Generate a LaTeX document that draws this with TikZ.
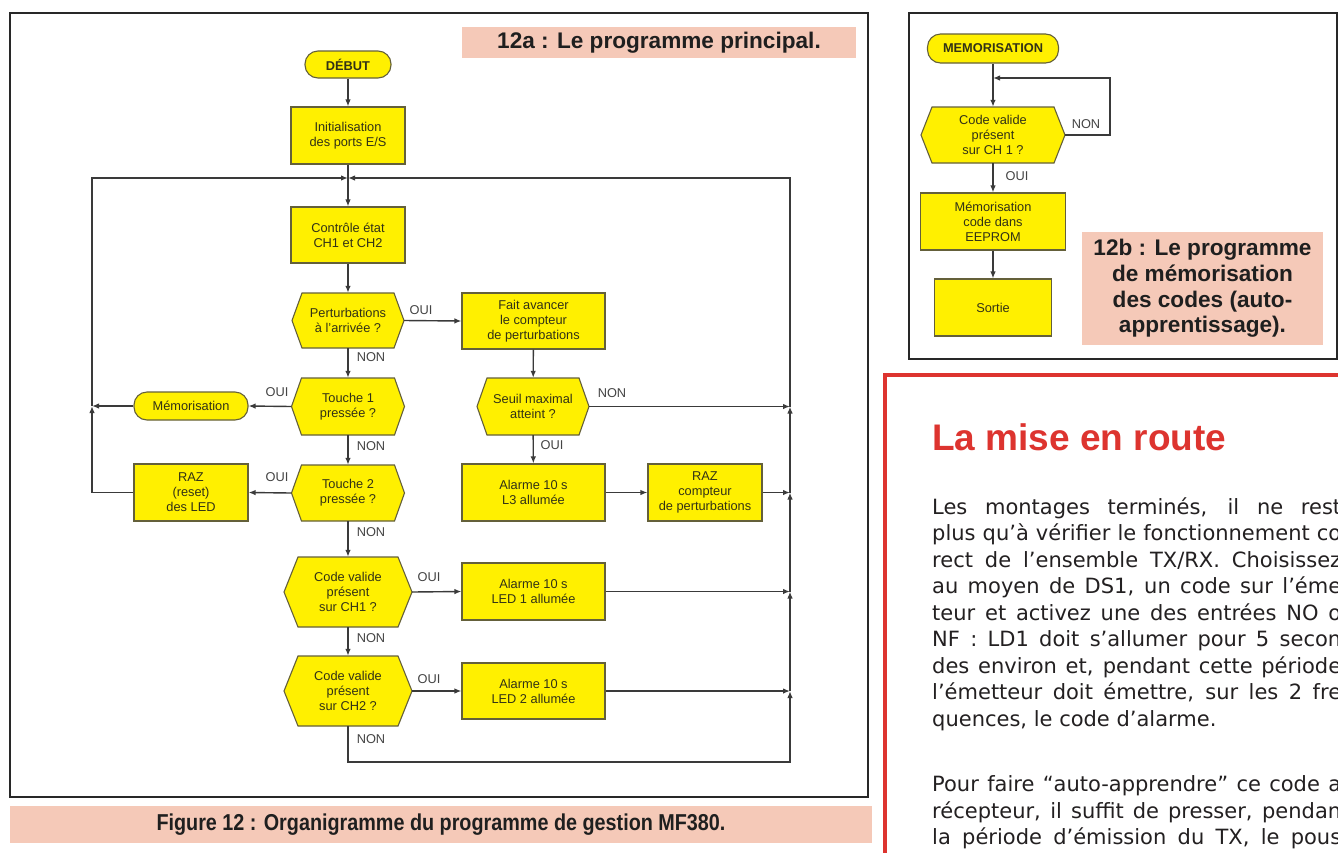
\documentclass[tikz,border=0pt]{standalone}
\usepackage{fontspec}
\usepackage{graphicx}
\setmainfont{Liberation Sans}
\newfontfamily\bodyfam{DejaVu Sans}
\usetikzlibrary{arrows.meta}
\definecolor{fyel}{RGB}{255,240,0}
\definecolor{fborder}{RGB}{100,96,58}
\definecolor{ftext}{RGB}{50,50,22}
\definecolor{fline}{RGB}{58,58,58}
\definecolor{flab}{RGB}{68,68,68}
\definecolor{fframe}{RGB}{40,40,40}
\definecolor{pinkband}{RGB}{245,201,184}
\definecolor{capred}{RGB}{221,52,47}
\definecolor{bodytext}{RGB}{35,32,33}
\newcommand\flowfont{\fontsize{12.8}{15}\selectfont}
\newcommand\bandfont{\fontsize{22.6}{25.7}\selectfont\bfseries}
\newcommand\bodyfont{\bodyfam\fontsize{21}{26.5}\selectfont}
% name, x, y, width, height, slant, text
\newcommand\flowhex[7]{%
  \path[hexshape] (#2-#4/2,#3) -- (#2-#4/2+#6,#3-#5/2) -- (#2+#4/2-#6,#3-#5/2)
     -- (#2+#4/2,#3) -- (#2+#4/2-#6,#3+#5/2) -- (#2-#4/2+#6,#3+#5/2) -- cycle;
  \node[hexnode, minimum width=#4pt, minimum height=#5pt] (#1) at (#2,#3) {#7};}
\newcommand\bodyline[3]{\node[bodyln] (#1) at (932,#2) {\makebox[409pt][s]{#3}};}
\begin{document}
\begin{tikzpicture}[x=1pt,y=-1pt,
  rbox/.style={rectangle, draw=fborder, fill=fyel, line width=1.1pt, text=ftext,
     font=\flowfont, align=center, inner sep=0pt},
  term/.style={rbox, rounded corners=13pt},
  hexshape/.style={draw=fborder, fill=fyel, line width=1.1pt},
  hexnode/.style={rectangle, text=ftext, font=\flowfont, align=center, inner sep=0pt},
  conn/.style={draw=fline, line width=1.4pt},
  arr/.style={conn, -{Latex[length=7pt,width=5.5pt]}},
  lab/.style={font=\flowfont, text=flab, inner sep=0pt},
  frame/.style={draw=fframe, line width=1.8pt},
  band/.style={fill=pinkband, inner sep=0pt, align=center, text=black!88, font=\bandfont},
  bodyln/.style={anchor=base west, inner sep=0pt, font=\bodyfont, text=bodytext}]
\useasboundingbox (0,0) rectangle (1338,852);
\fill[white] (0,0) rectangle (1338,852);

% ---------- frames ----------
\draw[frame] (10,13) rectangle (868,797);
\draw[frame] (909,13) rectangle (1337,359);
\draw[draw=capred, line width=3.6pt] (1350,375) -- (885,375) -- (885,870);

% ---------- captions ----------
\node[band, minimum width=394pt, minimum height=31pt] (capA) at (659,42.5) {12a : Le programme principal.};
\node[band, minimum width=241pt, minimum height=113pt] (capB) at (1202.5,288.5)
  {12b : Le programme\\de mémorisation\\des codes (auto-\\apprentissage).};
\node[band, minimum width=862pt, minimum height=37pt] (capF) at (441,824.5)
  {\scalebox{0.86}[1]{\fontsize{23}{26}\selectfont\bfseries Figure 12 : Organigramme du programme de gestion MF380.}};

% ---------- main flowchart nodes ----------
\node[term, minimum width=86pt, minimum height=27pt] (debut) at (348,64.5) {\textbf{DÉBUT}};
\node[rbox, minimum width=114pt, minimum height=57pt] (init) at (348,135.5) {Initialisation\\des ports E/S};
\node[rbox, minimum width=114pt, minimum height=56pt] (ctrl) at (348,235) {Contrôle état\\CH1 et CH2};
\flowhex{pert}{348}{320.5}{112}{55}{10}{Perturbations\\à l'arrivée ?}
\node[rbox, minimum width=143pt, minimum height=56pt] (fait) at (533.5,321) {Fait avancer\\le compteur\\de perturbations};
\flowhex{t1}{348}{406.5}{113}{57}{10}{Touche 1\\pressée ?}
\node[term, minimum width=114pt, minimum height=28pt] (memo) at (191,406) {Mémorisation};
\flowhex{seuil}{533}{406.5}{112}{57}{10}{Seuil maximal\\atteint ?}
\flowhex{t2}{348}{493}{113}{56}{10}{Touche 2\\pressée ?}
\node[rbox, minimum width=114pt, minimum height=57pt] (raz) at (191,492.5) {RAZ\\(reset)\\des LED};
\node[rbox, minimum width=143pt, minimum height=57pt] (al3) at (533.5,492.5) {Alarme 10 s\\L3 allumée};
\node[rbox, minimum width=114pt, minimum height=57pt] (razc) at (705,492.5) {RAZ\\compteur\\de perturbations};
\flowhex{ch1}{348}{592}{128}{70}{14}{Code valide\\présent\\sur CH1 ?}
\node[rbox, minimum width=143pt, minimum height=57pt] (led1) at (533.5,591.5) {Alarme 10 s\\LED 1 allumée};
\flowhex{ch2}{348}{691}{128}{70}{14}{Code valide\\présent\\sur CH2 ?}
\node[rbox, minimum width=143pt, minimum height=56pt] (led2) at (533.5,691) {Alarme 10 s\\LED 2 allumée};

% ---------- junctions ----------
\coordinate (jt) at (348,178);
\coordinate (xl) at (92,178);
\coordinate (xr) at (790,178);
\coordinate (jl) at (memo.west -| xl);
\coordinate (jr1) at (seuil.east -| xr);
\coordinate (jr2) at (razc.east -| xr);
\coordinate (jr3) at (led1.east -| xr);
\coordinate (jr4) at (led2.east -| xr);
\coordinate (jb) at (790,762);

% ---------- main connectors ----------
\draw[arr] (debut) -- (init);
\draw[arr] (init) -- (ctrl);
\draw[arr] (ctrl) -- (pert);
\draw[arr] (pert.east) -- (fait.west);
\draw[arr] (pert) -- (t1);
\draw[arr] (t1.west) -- (memo.east);
\draw[arr] (memo.west) -- (jl);
\draw[arr] (t1) -- (t2);
\draw[arr] (t2.west) -- (raz.east);
\draw[arr] (raz.west) -| (jl);
\draw[arr] (jl) |- (jt);
\draw[arr] (t2) -- (ch1);
\draw[arr] (ch1) -- (ch2);
\draw[arr] (ch1.east) -- (led1.west);
\draw[arr] (ch2.east) -- (led2.west);
\draw[arr] (fait) -- (seuil);
\draw[arr] (seuil) -- (al3);
\draw[arr] (al3) -- (razc);
\draw[arr] (seuil.east) -- (jr1);
\draw[arr] (razc.east) -- (jr2);
\draw[arr] (led1.east) -- (jr3);
\draw[arr] (led2.east) -- (jr4);
\draw[arr] (ch2.south) |- (jb) -- (jr4);
\draw[arr] (jr4) -- (jr3);
\draw[arr] (jr3) -- (jr2);
\draw[arr] (jr2) -- (jr1);
\draw[arr] (jr1) |- (jt);

% ---------- main labels ----------
\node[lab] (l1) at (421,310) {OUI};
\node[lab] (l2) at (371,357) {NON};
\node[lab] (l3) at (277,392) {OUI};
\node[lab] (l4) at (371,446) {NON};
\node[lab] (l5) at (277,477) {OUI};
\node[lab] (l6) at (371,532) {NON};
\node[lab] (l7) at (612,393) {NON};
\node[lab] (l8) at (552,445) {OUI};
\node[lab] (l9) at (429,577) {OUI};
\node[lab] (l10) at (371,638) {NON};
\node[lab] (l11) at (429,679) {OUI};
\node[lab] (l12) at (371,739) {NON};

% ---------- 12b flowchart ----------
\node[term, minimum width=131pt, minimum height=29pt] (mT) at (993,48.5) {\textbf{MEMORISATION}};
\flowhex{mh}{993}{135}{144}{56}{11}{Code valide\\présent\\sur CH 1 ?}
\node[rbox, minimum width=145pt, minimum height=57pt] (mc) at (993,221.5) {Mémorisation\\code dans\\EEPROM};
\node[rbox, minimum width=117pt, minimum height=57pt] (so) at (993,307.5) {Sortie};
\coordinate (mj) at (993,78);
\coordinate (mr) at (1110,78);
\draw[arr] (mT) -- (mh);
\draw[arr] (mh.east) -| (mr) -- (mj);
\draw[arr] (mh) -- (mc);
\draw[arr] (mc) -- (so);
\node[lab] (l13) at (1086,124) {NON};
\node[lab] (l14) at (1017,176) {OUI};

% ---------- text column ----------
\node[anchor=base west, inner sep=0pt, text=capred, font=\fontsize{37}{40}\selectfont\bfseries] (title) at (932,450) {La mise en route};
\bodyline{b1}{514}{Les montages terminés, il ne rest}
\bodyline{b2}{540.5}{plus qu’à vérifier le fonctionnement co}
\bodyline{b3}{567}{rect de l’ensemble TX/RX. Choisissez}
\bodyline{b4}{593.5}{au moyen de DS1, un code sur l’éme}
\bodyline{b5}{620}{teur et activez une des entrées NO o}
\bodyline{b6}{646.5}{NF : LD1 doit s’allumer pour 5 secon}
\bodyline{b7}{673}{des environ et, pendant cette période}
\bodyline{b8}{699.5}{l’émetteur doit émettre, sur les 2 fre}
\node[bodyln] (b9) at (932,726) {quences, le code d’alarme.};
\bodyline{b10}{791.5}{Pour faire “auto-apprendre” ce code a}
\bodyline{b11}{818}{récepteur, il suffit de presser, pendan}
\bodyline{b12}{844.5}{la période d’émission du TX, le pous}
\end{tikzpicture}
\end{document}
